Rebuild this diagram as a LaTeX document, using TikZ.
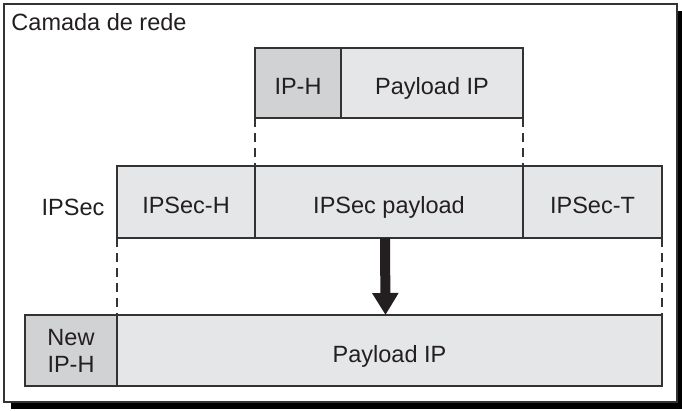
\documentclass[tikz,border=0pt]{standalone}
\usepackage{fontspec}
\setmainfont{Liberation Sans}
\usetikzlibrary{arrows.meta}
\definecolor{hdrgray}{HTML}{D1D2D4}
\definecolor{plgray}{HTML}{E5E6E8}
\definecolor{edge}{HTML}{333333}
\definecolor{ink}{HTML}{231F20}

\begin{document}
\begin{tikzpicture}[
        x=1pt,
        y=-1pt,
        every node/.style={font=\fontsize{23.5}{27}\selectfont, text=ink, inner sep=0pt, outer sep=0pt},
        cell/.style={rectangle, draw=edge, line width=1.8pt},
        hdr/.style={cell, fill=hdrgray, text height=23pt, text depth=0pt},
        pld/.style={cell, fill=plgray, text height=23pt, text depth=0pt},
        link/.style={draw=edge, line width=2pt, dash pattern=on 9pt off 6pt},
        push/.style={draw=ink, line width=10pt, -{Triangle[width=25pt,length=22pt]}}
    ]
    \useasboundingbox (0,0) rectangle (682,410);
    % frame with shadow
    \node[fill=black, minimum width=673pt, minimum height=398pt] (shadow) at (347.5,210) {};
    \node[draw=edge, line width=1.6pt, fill=white, minimum width=673pt, minimum height=398pt] (layer) at (340.5,203) {};
    \node[anchor=base west] (title) at (11.5,30) {Camada de rede};
    % IP packet
    \node[hdr, minimum width=86pt, minimum height=70pt] (iph) at (298,83) {IP-H};
    \node[pld, minimum width=182pt, minimum height=70pt] (plip) at (432,83) {Payload IP};
    % IPSec
    \node[anchor=base] (ipseclbl) at (73,215.5) {IPSec};
    \node[pld, minimum width=138pt, minimum height=72pt] (ipsech) at (186,202) {IPSec-H};
    \node[pld, minimum width=268pt, minimum height=72pt] (ipsecpl) at (389,202) {IPSec payload};
    \node[pld, minimum width=139pt, minimum height=72pt] (ipsect) at (592.5,202) {IPSec-T};
    % new IP packet
    \node[cell, fill=hdrgray, align=center, minimum width=92pt, minimum height=71pt] (newiph) at (71,350.5) {New\\IP-H};
    \node[pld, minimum width=545pt, minimum height=71pt] (newpl) at (389.5,350.5) {Payload IP};
    \foreach \a/\b in {iph.south west/ipsecpl.north west, plip.south east/ipsecpl.north east,
                       ipsech.south west/newiph.north east, ipsect.south east/newpl.north east} {
        \draw[link] (\a) -- (\b);
    }
    \draw[push] ([xshift=-4pt]ipsecpl.south) -- ([xshift=-4pt]newpl.north);
\end{tikzpicture}
\end{document}
